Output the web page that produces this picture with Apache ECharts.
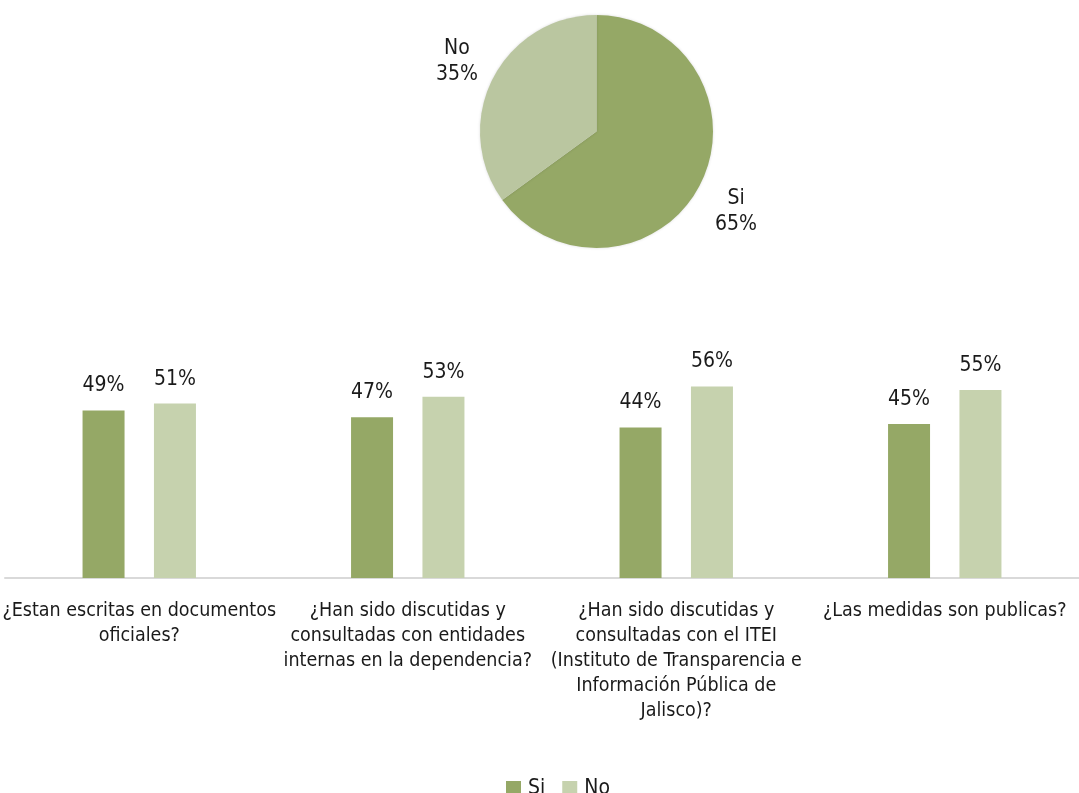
<!DOCTYPE html>
<html>
<head>
<meta charset="utf-8">
<script src="https://cdn.jsdelivr.net/npm/echarts@6/dist/echarts.min.js"></script>
<style>
  html, body { margin: 0; padding: 0; background: #fff; }
  #chart { width: 1079px; height: 793px; }
</style>
</head>
<body>
<div id="chart"></div>
<script>
  // pie: overall answer
  let pieNames = ['Si', 'No'];
  let pieValues = [65, 35];

  // bars: per question
  let questions = [
    '¿Estan escritas en documentos\noficiales?',
    '¿Han sido discutidas y\nconsultadas con entidades\ninternas en la dependencia?',
    '¿Han sido discutidas y\nconsultadas con el ITEI\n(Instituto de Transparencia e\nInformación Pública de\nJalisco)?',
    '¿Las medidas son publicas?'
  ];
  let siValues = [49, 47, 44, 45];
  let noValues = [51, 53, 56, 55];

  let font = "'DejaVu Sans Condensed', 'Liberation Sans Narrow', sans-serif";
  let green = '#95a866';
  let lightGreen = '#c6d2ae';
  let pieLight = '#bac6a0';

  let chart = echarts.init(document.getElementById('chart'));

  chart.setOption({
    animation: false,
    textStyle: { fontFamily: font, color: '#1a1a1a' },
    legend: {
      data: ['Si', 'No'],
      left: 506,
      top: 778,
      padding: 0,
      itemWidth: 15,
      itemHeight: 15,
      itemGap: 17,
      icon: 'rect',
      textStyle: { fontFamily: font, fontSize: 21, color: '#1a1a1a', padding: [0, 0, 0, 2] }
    },
    grid: { left: 5, right: 0, top: 236, bottom: 215, containLabel: false, outerBoundsMode: 'none' },
    xAxis: {
      type: 'category',
      data: questions,
      axisTick: { show: false },
      axisLine: { lineStyle: { color: '#d9d9d9', width: 2 } },
      axisLabel: {
        interval: 0,
        margin: 20,
        fontSize: 19.5,
        lineHeight: 25,
        color: '#1a1a1a',
        fontFamily: font
      }
    },
    yAxis: {
      type: 'value',
      min: 0,
      max: 100,
      show: false
    },
    series: [
      {
        name: 'Si',
        type: 'bar',
        data: siValues,
        barWidth: 42,
        barGap: '70%',
        itemStyle: { color: green },
        label: {
          show: true, position: 'top', distance: 14,
          formatter: '{c}%', fontSize: 21, color: '#1a1a1a', fontFamily: font
        }
      },
      {
        name: 'No',
        type: 'bar',
        data: noValues,
        barWidth: 42,
        barGap: '70%',
        itemStyle: { color: lightGreen },
        label: {
          show: true, position: 'top', distance: 14,
          formatter: '{c}%', fontSize: 21, color: '#1a1a1a', fontFamily: font
        }
      },
      {
        name: 'pie',
        type: 'pie',
        center: [596.5, 131.5],
        radius: 116.5,
        startAngle: 90,
        clockwise: true,
        avoidLabelOverlap: false,
        data: pieNames.map(function (n, i) {
          return { name: n, value: pieValues[i], itemStyle: { color: i === 0 ? green : pieLight } };
        }),
        itemStyle: { shadowBlur: 3, shadowColor: 'rgba(0,0,0,0.15)' },
        labelLine: { show: false, length: 48, length2: -33 },
        label: {
          show: true,
          position: 'outside',
          padding: [10, 0, 0, 0],
          formatter: '{c|{b}}\n{c|{d}%}',
          rich: {
            c: { align: 'center', fontSize: 21, lineHeight: 26, fontFamily: font, color: '#1a1a1a' }
          }
        },
        emphasis: { disabled: true }
      }
    ]
  });
</script>
</body>
</html>
